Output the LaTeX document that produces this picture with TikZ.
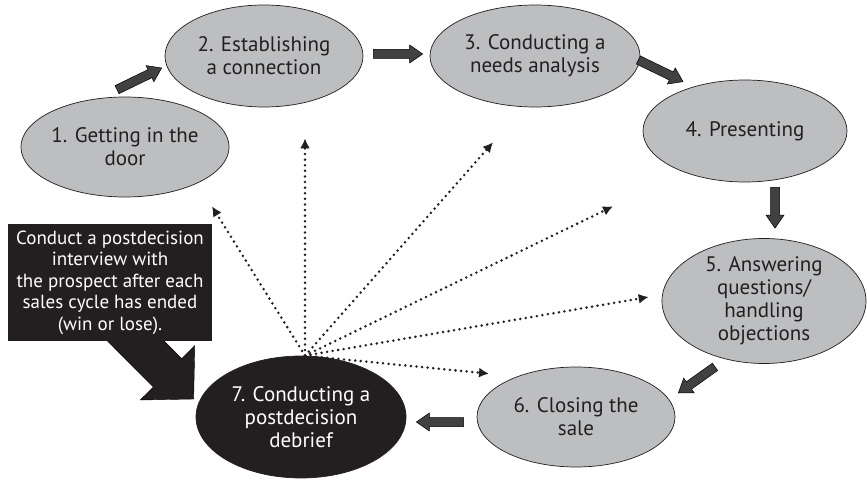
\documentclass[tikz,border=0pt]{standalone}
\usepackage{fontspec}
\setmainfont{PT Sans}
\usepackage{xcolor}
\usepackage{tikz}
\usetikzlibrary{calc}
\usetikzlibrary{backgrounds}
\usetikzlibrary{shapes.geometric}
\usetikzlibrary{arrows.meta}

\definecolor{stagegrey}{HTML}{BCBEC0}
\definecolor{flowgrey}{HTML}{414042}
\definecolor{inkblack}{HTML}{231F20}

\begin{document}
\begin{tikzpicture}[x=1pt,y=-1pt]
    \tikzstyle{every node}=[font=\fontsize{21}{23}\selectfont,align=center,inner sep=0pt]
    \tikzstyle{stage}=[ellipse,draw=inkblack,line width=0.7pt,fill=stagegrey,text=inkblack]
    \tikzstyle{flow}=[draw=black,line width=0.5pt,fill=flowgrey]
    \tikzstyle{pointer}=[fill=inkblack]
    \tikzstyle{probe}=[inkblack,line width=2.8pt,line cap=round,dash pattern=on 0pt off 5.6pt,-{Latex[length=10pt,width=10pt]}]

    \useasboundingbox (0,0) rectangle (867,481);

    \node[stage,minimum width=204pt,minimum height=100pt] (getin) at (125,147) {1. Getting in the\\door} ;
    \node[stage,minimum width=198pt,minimum height=102pt] (connect) at (264,56) {2. Establishing\\a connection} ;
    \node[stage,minimum width=210pt,minimum height=102pt] (needs) at (535,56) {3. Conducting a\\needs analysis} ;
    \node[stage,minimum width=204pt,minimum height=102pt] (present) at (745,131) {4. Presenting} ;
    \node[stage,minimum width=204pt,minimum height=112pt] (objections) at (764,301) {5. Answering\\questions/\\handling\\objections} ;
    \node[stage,minimum width=198pt,minimum height=100pt] (closing) at (576,417) {6. Closing the\\sale} ;
    \node[stage,fill=inkblack,text=white,minimum width=210pt,minimum height=122pt] (debrief) at (301,417) {7. Conducting a\\postdecision\\debrief} ;

    \node[fill=inkblack,text=white,minimum width=204pt,minimum height=117pt,font=\fontsize{19}{21.5}\selectfont] (note) at (110,282.5) {Conduct a postdecision\\interview with\\the prospect after each\\sales cycle has ended\\(win or lose).} ;

    \newcommand{\bigarrow}[6][flow]{%
      \coordinate (tail) at (#2);
      \coordinate (tip) at (#3);
      \coordinate (neck) at ($(tip)!#6!(tail)$);
      \draw[#1] ($(tail)!#4!90:(tip)$) -- ($(neck)!#4!90:(tip)$) -- ($(neck)!#5!90:(tip)$) -- (tip)
        -- ($(neck)!#5!-90:(tip)$) -- ($(neck)!#4!-90:(tip)$) -- ($(tail)!#4!-90:(tip)$) -- cycle ;}

    \bigarrow{[shift={(-8,-7)}]getin.north}{[shift={(-3,12)}]connect.west}{4.5pt}{9pt}{13pt}
    \bigarrow{[shift={(10,-2)}]connect.east}{[shift={(-7,-2)}]needs.west}{4.5pt}{9pt}{13pt}
    \bigarrow{[shift={(-2,4)}]needs.east}{[shift={(-62,2)}]present.north}{4.5pt}{9pt}{13pt}
    \bigarrow{[shift={(30,5)}]present.south}{[shift={(11,-10)}]objections.north}{4.5pt}{9pt}{13pt}
    \bigarrow{[shift={(-49,3)}]objections.south}{[shift={(3,-24)}]closing.east}{4.5pt}{9pt}{13pt}
    \bigarrow{[shift={(-13,5)}]closing.west}{[shift={(10,5)}]debrief.east}{4.5pt}{9pt}{13pt}
    \begin{scope}[on background layer]
      \bigarrow[pointer]{[shift={(10,-16)}]note.south}{[shift={(-2,-18)}]debrief.west}{20pt}{38.5pt}{37pt}
    \end{scope}

    \coordinate (hub) at ([xshift=4pt]debrief.north) ;
    \draw[probe] (hub) -- ([shift={(87,9)}]getin.south) ;
    \draw[probe] (hub) -- ([shift={(41,31)}]connect.south) ;
    \draw[probe] (hub) -- ([shift={(-42,35)}]needs.south) ;
    \draw[probe] (hub) -- ([shift={(-132,24)}]present.south) ;
    \draw[probe] (hub) -- ([shift={(-13,-4)}]objections.west) ;
    \draw[probe] (hub) -- ([shift={(-87,7)}]closing.north) ;

\end{tikzpicture}
\end{document}
